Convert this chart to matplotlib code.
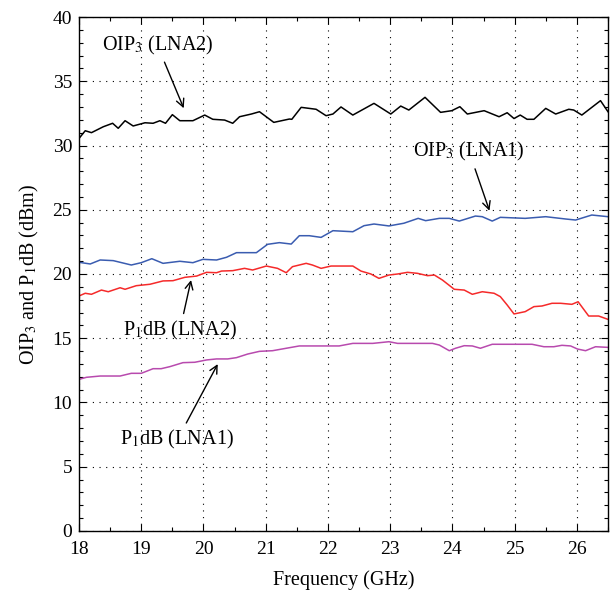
import matplotlib
matplotlib.use("Agg")
import matplotlib.pyplot as plt
from matplotlib.ticker import MultipleLocator

plt.rcParams['font.family'] = ['Liberation Serif', 'DejaVu Serif']
plt.rcParams['mathtext.fontset'] = 'stix'

# OIP3 (LNA2) - black
f_oip3_lna2 = [18.0, 18.1, 18.2, 18.39, 18.54, 18.63, 18.74, 18.87, 19.06, 19.19, 19.3, 19.39, 19.5, 19.62,
               19.83, 20.02, 20.15, 20.34, 20.47, 20.58, 20.77, 20.9, 21.13, 21.38, 21.42, 21.57, 21.81,
               21.97, 22.08, 22.21, 22.4, 22.74, 23.01, 23.17, 23.3, 23.56, 23.81, 23.99, 24.12, 24.24,
               24.51, 24.75, 24.88, 24.99, 25.09, 25.2, 25.31, 25.5, 25.66, 25.87, 25.95, 26.08, 26.38, 26.5]
oip3_lna2 = [30.55, 31.15, 31.0, 31.46, 31.73, 31.34, 31.93, 31.52, 31.77, 31.73, 31.93, 31.73, 32.4, 31.93,
             31.93, 32.37, 32.04, 31.98, 31.73, 32.24, 32.45, 32.63, 31.8, 32.06, 32.04, 32.97, 32.82,
             32.32, 32.45, 33.0, 32.37, 33.28, 32.45, 33.07, 32.76, 33.75, 32.58, 32.71, 33.02, 32.45,
             32.71, 32.24, 32.55, 32.1, 32.37, 32.04, 32.04, 32.89, 32.45, 32.82, 32.76, 32.37, 33.49, 32.63]

# OIP3 (LNA1) - blue
f_oip3_lna1 = [18.0, 18.18, 18.34, 18.55, 18.84, 19.0, 19.17, 19.35, 19.62, 19.83, 19.99, 20.21, 20.37,
               20.53, 20.85, 21.03, 21.22, 21.41, 21.54, 21.7, 21.89, 22.08, 22.4, 22.58, 22.74, 22.98,
               23.22, 23.45, 23.57, 23.79, 23.95, 24.11, 24.37, 24.48, 24.64, 24.77, 25.17, 25.5, 25.82,
               25.98, 26.24, 26.5]
oip3_lna1 = [20.91, 20.78, 21.09, 21.04, 20.7, 20.88, 21.19, 20.83, 20.99, 20.88, 21.14, 21.09, 21.3,
             21.66, 21.66, 22.31, 22.44, 22.33, 22.98, 22.98, 22.85, 23.37, 23.29, 23.76, 23.89, 23.74,
             23.95, 24.33, 24.15, 24.33, 24.33, 24.12, 24.51, 24.46, 24.12, 24.41, 24.33, 24.46, 24.28,
             24.2, 24.59, 24.46]

# P1dB (LNA2) - red
f_p1db_lna2 = [18.0, 18.1, 18.2, 18.36, 18.47, 18.66, 18.74, 18.92, 19.14, 19.35, 19.51, 19.7, 19.89,
               20.05, 20.21, 20.29, 20.47, 20.66, 20.79, 21.01, 21.19, 21.33, 21.43, 21.65, 21.75, 21.89,
               22.05, 22.4, 22.53, 22.69, 22.82, 22.98, 23.12, 23.28, 23.44, 23.6, 23.71, 23.84, 24.03,
               24.19, 24.32, 24.48, 24.67, 24.77, 24.88, 24.99, 25.17, 25.31, 25.44, 25.6, 25.74, 25.92,
               26.02, 26.19, 26.35, 26.5]
p1db_lna2 = [18.29, 18.5, 18.42, 18.75, 18.62, 18.93, 18.81, 19.09, 19.2, 19.46, 19.48, 19.74, 19.84,
             20.13, 20.1, 20.23, 20.26, 20.44, 20.31, 20.62, 20.44, 20.1, 20.57, 20.83, 20.7, 20.44,
             20.62, 20.62, 20.23, 20.0, 19.66, 19.92, 20.0, 20.13, 20.05, 19.87, 19.92, 19.53, 18.81,
             18.75, 18.42, 18.62, 18.5, 18.24, 17.59, 16.89, 17.07, 17.46, 17.51, 17.72, 17.72, 17.64,
             17.84, 16.73, 16.73, 16.47]

# P1dB (LNA1) - magenta
f_p1db_lna1 = [18.0, 18.12, 18.34, 18.66, 18.84, 19.0, 19.19, 19.32, 19.46, 19.67, 19.86, 20.05, 20.21,
               20.39, 20.53, 20.71, 20.9, 21.11, 21.33, 21.54, 21.75, 22.18, 22.4, 22.72, 22.98, 23.12,
               23.68, 23.79, 23.95, 24.05, 24.19, 24.32, 24.45, 24.64, 25.28, 25.47, 25.63, 25.76, 25.9,
               26.01, 26.14, 26.3, 26.5]
p1db_lna1 = [11.8, 11.96, 12.06, 12.06, 12.27, 12.27, 12.63, 12.63, 12.79, 13.1, 13.13, 13.31, 13.39,
             13.39, 13.49, 13.77, 13.98, 14.03, 14.22, 14.4, 14.4, 14.4, 14.6, 14.6, 14.73, 14.6,
             14.6, 14.47, 14.03, 14.22, 14.42, 14.4, 14.22, 14.53, 14.53, 14.34, 14.34, 14.45, 14.4,
             14.16, 14.03, 14.34, 14.29]

x_ticks = [18, 19, 20, 21, 22, 23, 24, 25, 26]
y_ticks = [0, 5, 10, 15, 20, 25, 30, 35, 40]

fig = plt.figure(figsize=(6.13, 5.95), dpi=100)
ax = fig.add_axes([0.1289, 0.1076, 0.8629, 0.8638])

ax.plot(f_oip3_lna2, oip3_lna2, color='black', lw=1.1)
ax.plot(f_oip3_lna1, oip3_lna1, color='#3a5cb0', lw=1.1)
ax.plot(f_p1db_lna2, p1db_lna2, color='#f52a2a', lw=1.1)
ax.plot(f_p1db_lna1, p1db_lna1, color='#b84aae', lw=1.1)

ax.set_xlim(18, 26.5)
ax.set_ylim(0, 40)
ax.set_xticks(x_ticks)
ax.set_yticks(y_ticks)
ax.xaxis.set_minor_locator(MultipleLocator(0.5))
ax.yaxis.set_minor_locator(MultipleLocator(1))
ax.tick_params(which='both', direction='in', top=True, right=True, labelsize=14)
ax.tick_params(which='major', length=5, width=0.8)
ax.tick_params(which='minor', length=3, width=0.8)
ax.tick_params(axis='x', which='major', pad=7)
ax.tick_params(axis='y', which='major', pad=5)
ax.grid(True, which='major', color='black', linestyle=(0, (1, 5)), linewidth=0.8)
for s in ax.spines.values():
    s.set_linewidth(1.0)

ax.set_xlabel('Frequency (GHz)', fontsize=14.5, labelpad=9)
ax.set_ylabel('OIP$_3$ and P$_1$dB (dBm)', fontsize=14.5, labelpad=8)

arrow = dict(arrowstyle='->', color='black', lw=1.0, mutation_scale=14)
fs = 14.5
ax.annotate('OIP$_3$ (LNA2)', xy=(19.7, 32.7), xytext=(19.26, 37.8), ha='center', va='center',
            fontsize=fs, arrowprops=arrow)
ax.annotate('OIP$_3$ (LNA1)', xy=(24.61, 24.72), xytext=(24.27, 29.5), ha='center', va='center',
            fontsize=fs, arrowprops=arrow)
ax.annotate('P$_1$dB (LNA2)', xy=(19.81, 19.74), xytext=(19.62, 15.6), ha='center', va='center',
            fontsize=fs, arrowprops=arrow)
ax.annotate('P$_1$dB (LNA1)', xy=(20.25, 13.18), xytext=(19.58, 7.1), ha='center', va='center',
            fontsize=fs, arrowprops=arrow)

fig.savefig('out.png', dpi=100)
